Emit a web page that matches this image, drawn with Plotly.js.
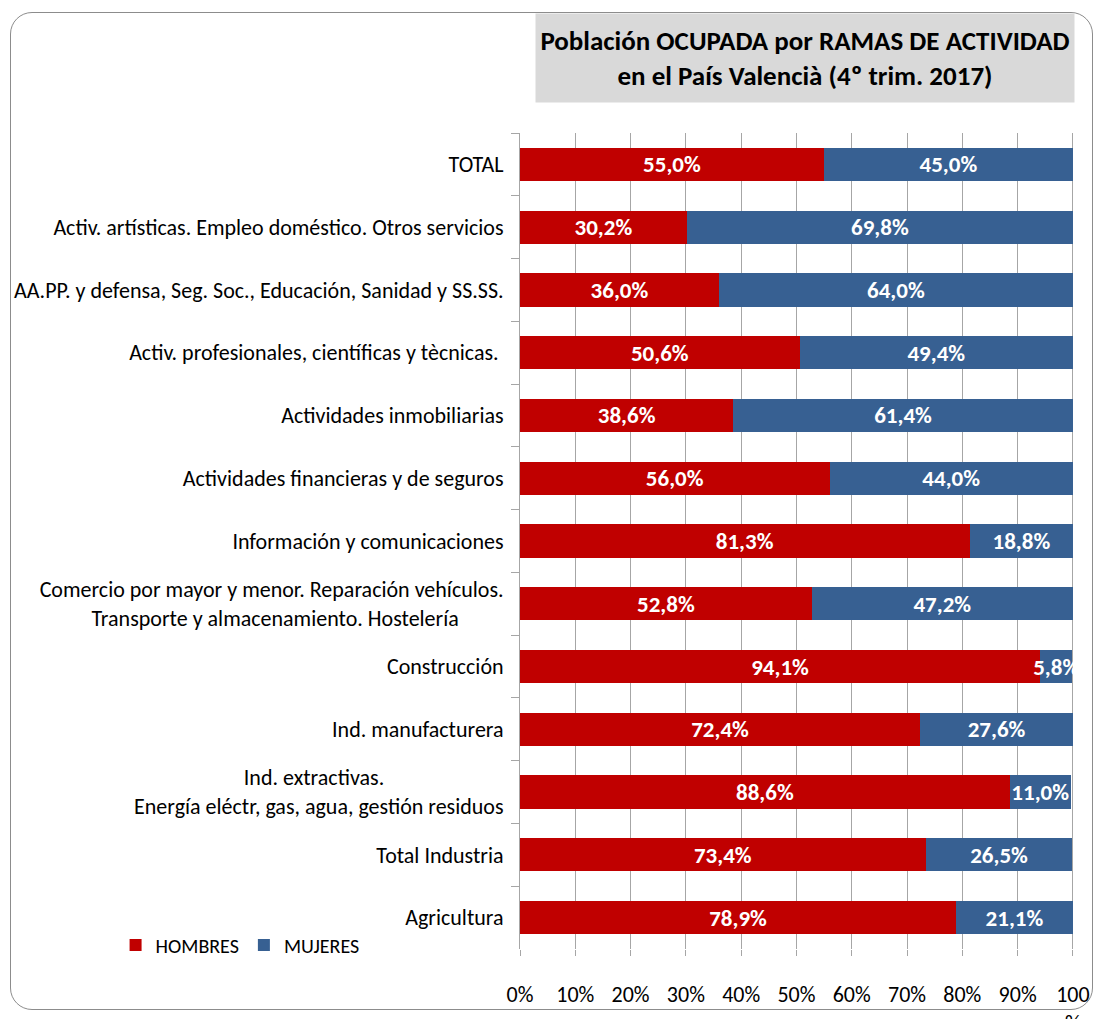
<!DOCTYPE html>
<html>
<head>
<meta charset="utf-8">
<script src="https://cdn.plot.ly/plotly-3.0.1.min.js"></script>
<style>
  html, body { margin:0; padding:0; background:#ffffff; }
  #wrap { position:relative; width:1104px; height:1019px; overflow:hidden; }
  #frame { position:absolute; left:10px; top:12px; width:1081px; height:996px;
           border:1.5px solid #8c8c8c; border-radius:22px; pointer-events:none; }
  #chart { position:absolute; left:0; top:0; width:1104px; height:1019px; }
</style>
</head>
<body>
<div id="wrap">
  <div id="frame"></div>
  <div id="chart"></div>
</div>
<script>
const NB = "\u00a0";
const categories = [
  "TOTAL",
  "Activ. artísticas. Empleo doméstico. Otros servicios",
  "AA.PP. y defensa, Seg. Soc., Educación, Sanidad y SS.SS.",
  "Activ. profesionales, científicas y tècnicas. ",
  "Actividades inmobiliarias",
  "Actividades financieras y de seguros",
  "Información y comunicaciones",
  "Comercio por mayor y menor. Reparación vehículos.<br>Transporte y almacenamiento. Hostelería" + NB.repeat(9),
  "Construcción",
  "Ind. manufacturera",
  "Ind. extractivas." + NB.repeat(24) + "<br>Energía eléctr, gas, agua, gestión residuos",
  "Total Industria",
  "Agricultura"
];
const hombres = [55.0, 30.2, 36.0, 50.6, 38.6, 56.0, 81.3, 52.8, 94.1, 72.4, 88.6, 73.4, 78.9];
const mujeres = [45.0, 69.8, 64.0, 49.4, 61.4, 44.0, 18.8, 47.2, 5.8, 27.6, 11.0, 26.5, 21.1];
const xTickVals = [0, 10, 20, 30, 40, 50, 60, 70, 80, 90, 100];
const xTickText = ["0%", "10%", "20%", "30%", "40%", "50%", "60%", "70%", "80%", "90%", "100<br>%"];
const seriesNames = ["HOMBRES", "MUJERES"];
const titleText = "<b>Población OCUPADA por RAMAS DE ACTIVIDAD</b><br><b>en el País Valencià (4º trim. 2017)</b>";

const FONT = "Carlito, Lato, sans-serif";

const common = {
  type: "bar",
  orientation: "h",
  y: categories,
  texttemplate: "%{x:.1f}%",
  textposition: "inside",
  insidetextanchor: "middle",
  textangle: 0,
  constraintext: "none",
  textfont: { family: FONT, size: 23, color: "#ffffff", weight: "bold" },
  hoverinfo: "skip",
  cliponaxis: false
};

const traces = [
  Object.assign({}, common, { x: hombres, name: seriesNames[0], marker: { color: "#C00000" } }),
  Object.assign({}, common, { x: mujeres, name: seriesNames[1], marker: { color: "#376092" } })
];

const layout = {
  width: 1104,
  height: 1019,
  margin: { l: 520, r: 30, t: 133, b: 70, pad: 0 },
  paper_bgcolor: "rgba(0,0,0,0)",
  plot_bgcolor: "rgba(0,0,0,0)",
  barmode: "stack",
  bargap: 0.47,
  separators: ",.",
  font: { family: FONT, size: 20, color: "#000000" },
  showlegend: true,
  legend: {
    orientation: "h",
    x: -0.73, xanchor: "left",
    y: 0.005, yanchor: "middle",
    font: { family: FONT, size: 20, color: "#000000" },
    bgcolor: "rgba(0,0,0,0)",
    traceorder: "normal",
    itemwidth: 30
  },
  xaxis: {
    range: [0, 100.2],
    tickvals: xTickVals,
    ticktext: xTickText,
    showgrid: true,
    gridcolor: "#a6a6a6",
    gridwidth: 1,
    zeroline: false,
    showline: false,
    ticks: "outside",
    ticklen: 6,
    tickcolor: "#a6a6a6",
    ticklabelstandoff: 20,
    tickfont: { family: FONT, size: 22, color: "#000000" },
    fixedrange: true
  },
  yaxis: {
    type: "category",
    autorange: "reversed",
    showline: true,
    linecolor: "#a6a6a6",
    linewidth: 1,
    ticks: "outside",
    tickson: "boundaries",
    ticklen: 8,
    tickcolor: "#a6a6a6",
    showgrid: false,
    ticklabelstandoff: 11,
    tickfont: { family: FONT, size: 22, color: "#000000" },
    fixedrange: true
  },
  annotations: [
    {
      xref: "paper", yref: "paper",
      x: 0.515, y: 1.037,
      xanchor: "center", yanchor: "bottom",
      text: titleText,
      showarrow: false,
      align: "center",
      bgcolor: "#d9d9d9",
      width: 536,
      height: 86,
      font: { family: FONT, size: 27, color: "#000000" }
    }
  ]
};

Plotly.newPlot("chart", traces, layout, { displayModeBar: false, staticPlot: true });
</script>
</body>
</html>
